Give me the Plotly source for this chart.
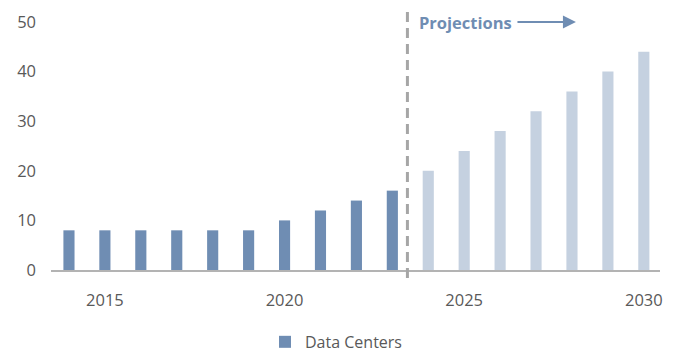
import plotly.graph_objects as go

# Annual values: reported history and projected years
hist_years = [2014, 2015, 2016, 2017, 2018, 2019, 2020, 2021, 2022, 2023]
hist_values = [8, 8, 8, 8, 8, 8, 10, 12, 14, 16]
proj_years = [2024, 2025, 2026, 2027, 2028, 2029, 2030]
proj_values = [20, 24, 28, 32, 36, 40, 44]

x_ticks = [2015, 2020, 2025, 2030]
y_ticks = [0, 10, 20, 30, 40, 50]
split_year = 2023.42

DARK = "#6f8db3"
LIGHT = "#c5d1e0"
FONT = "Open Sans"

fig = go.Figure()
fig.add_trace(go.Bar(x=hist_years, y=hist_values, name="Data Centers",
                     marker=dict(color=DARK, line=dict(width=0)), width=0.31))
fig.add_trace(go.Bar(x=proj_years, y=proj_values, name="Projections",
                     showlegend=False,
                     marker=dict(color=LIGHT, line=dict(width=0)), width=0.31))

# Divider between history and projections
fig.add_shape(type="line", xref="x", yref="paper",
              x0=split_year, x1=split_year, y0=-0.032, y1=1.056,
              line=dict(color="#a6a6a6", width=3, dash="10px,6px"))

fig.add_annotation(text="<b>Projections</b>", xref="paper", yref="paper",
                   x=0.601, y=1.0, xanchor="left", yanchor="middle",
                   showarrow=False, font=dict(family=FONT, size=16.5, color=DARK))
fig.add_annotation(text="", xref="paper", yref="paper", x=0.862, y=1.0,
                   ax=-60, ay=0, showarrow=True, arrowhead=2, arrowsize=1.3,
                   arrowwidth=2, arrowcolor=DARK, standoff=0, startstandoff=0)

fig.update_layout(
    width=676, height=352,
    margin=dict(l=51, r=16, t=22, b=82, autoexpand=False),
    paper_bgcolor="white", plot_bgcolor="white",
    font=dict(family=FONT, size=16.5, color="#595959"),
    barmode="overlay",
    showlegend=True,
    legend=dict(orientation="h", x=0.468, xanchor="center", y=-0.29,
                yanchor="middle", itemwidth=30,
                font=dict(family=FONT, size=16, color="#595959")),
    xaxis=dict(range=[2013.5, 2030.45], tickvals=x_ticks,
               showgrid=False, zeroline=False, showline=True,
               linecolor="#b3b3b3", linewidth=1.5, ticks="",
               ticklabelstandoff=14, automargin=False),
    yaxis=dict(range=[0, 50], tickvals=y_ticks, showgrid=False,
               zeroline=False, showline=False, ticks="",
               ticklabelstandoff=14, automargin=False),
)

fig.write_html("out.html")
